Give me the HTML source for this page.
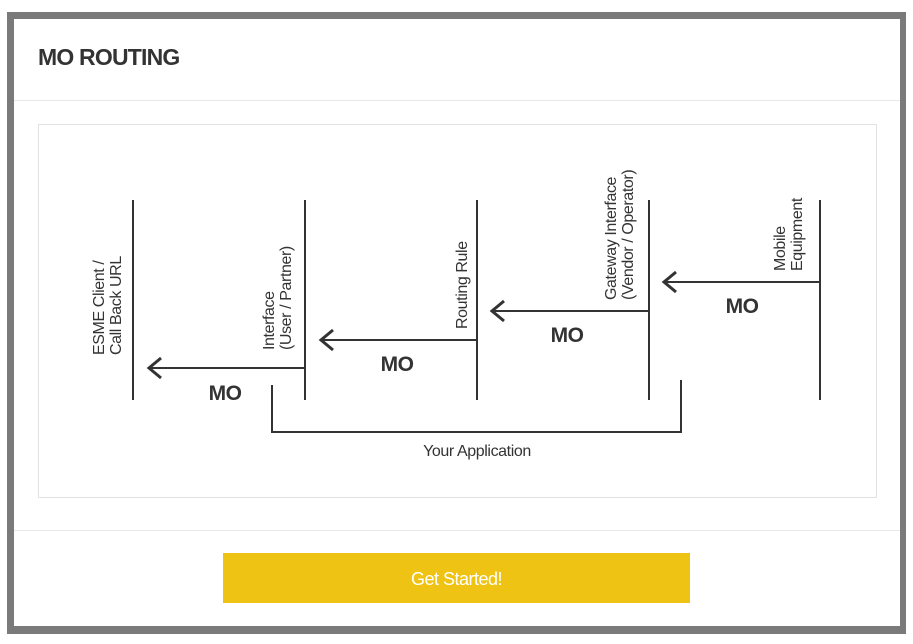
<!DOCTYPE html>
<html><head><meta charset="utf-8"><style>
body{margin:0;width:913px;height:644px;background:#fff;overflow:hidden;font-family:"Liberation Sans",sans-serif}
.frame{position:absolute;left:7px;top:12px;width:899px;height:622px;background:#7a7a7a}
.modal{position:absolute;left:14px;top:19px;width:886px;height:607px;background:#fff}
h1{position:absolute;left:38px;top:44px;margin:0;font-size:23px;font-weight:bold;color:#333;letter-spacing:-0.8px}
.hr{position:absolute;left:14px;width:886px;height:1px;background:#e8e8e8}
.box{position:absolute;left:38px;top:124px;width:837px;height:372px;border:1px solid #e2e2e2;background:#fff}
.btn{position:absolute;left:223px;top:553px;width:467px;height:50px;background:#efc314;color:#fff;font-size:18px;text-align:center;line-height:50px;border:none;letter-spacing:-0.5px;font-family:"Liberation Sans",sans-serif}
svg{position:absolute;left:0;top:0}
</style></head><body>
<div class="frame"></div>
<div class="modal"></div>
<h1>MO ROUTING</h1>
<div class="hr" style="top:100px"></div>
<div class="hr" style="top:530px"></div>
<div class="box"></div>
<svg width="913" height="644" font-family="Liberation Sans, sans-serif">
<g stroke="#333" stroke-width="2" fill="none">
<line x1="133" y1="200" x2="133" y2="400"/><line x1="305" y1="200" x2="305" y2="400"/>
<line x1="477" y1="200" x2="477" y2="400"/><line x1="649" y1="200" x2="649" y2="400"/>
<line x1="820" y1="200" x2="820" y2="400"/>
<line x1="820" y1="282" x2="664" y2="282"/><polyline stroke-width="3" points="676,272 664,282 676,292"/>
<line x1="649" y1="311" x2="492" y2="311"/><polyline stroke-width="3" points="504,301 492,311 504,321"/>
<line x1="477" y1="340" x2="321" y2="340"/><polyline stroke-width="3" points="333,330 321,340 333,350"/>
<line x1="305" y1="368" x2="149" y2="368"/><polyline stroke-width="3" points="161,358 149,368 161,378"/>
<polyline points="272,385 272,432 681,432 681,380"/>
</g>
<g font-size="21" font-weight="bold" fill="#333" text-anchor="middle" letter-spacing="-0.5">
<text x="742" y="313">MO</text>
<text x="567" y="342">MO</text>
<text x="397" y="371">MO</text>
<text x="225" y="400">MO</text>
</g>
<g font-size="16" fill="#333" letter-spacing="-0.4">
<text transform="translate(104,355) rotate(-90)"><tspan x="0" y="0">ESME Client /</tspan><tspan x="0" y="17">Call Back URL</tspan></text>
<text transform="translate(274,350) rotate(-90)"><tspan x="0" y="0">Interface</tspan><tspan x="0" y="17">(User / Partner)</tspan></text>
<text transform="translate(467,329) rotate(-90)">Routing Rule</text>
<text transform="translate(616,300) rotate(-90)"><tspan x="0" y="0">Gateway Interface</tspan><tspan x="0" y="17">(Vendor / Operator)</tspan></text>
<text transform="translate(785,271) rotate(-90)"><tspan x="0" y="0">Mobile</tspan><tspan x="0" y="17">Equipment</tspan></text>
<text x="477" y="456" text-anchor="middle">Your Application</text>
</g>
</svg>
<button class="btn">Get Started!</button>
</body></html>
